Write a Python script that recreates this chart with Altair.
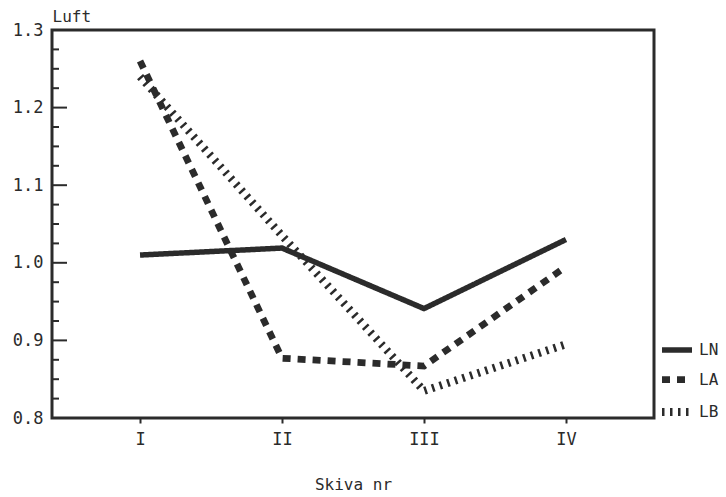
import json
import altair as alt
import pandas as pd

# ---- data ----
slices = ["I", "II", "III", "IV"]
series_names = ["LN", "LA", "LB"]
ln_values = [1.010, 1.019, 0.941, 1.030]
la_values = [1.260, 0.877, 0.867, 0.995]
lb_values = [1.240, 1.035, 0.835, 0.895]
major_ticks = [0.8, 0.9, 1.0, 1.1, 1.2, 1.3]
minor_ticks = [0.825, 0.85, 0.875, 0.925, 0.95, 0.975, 1.025, 1.05, 1.075,
               1.125, 1.15, 1.175, 1.225, 1.25, 1.275]

rows = []
for name, vals in zip(series_names, [ln_values, la_values, lb_values]):
    for s, v in zip(slices, vals):
        rows.append({"Skiva": s, "Luft": v, "serie": name})
df = pd.DataFrame(rows)

FONT = "DejaVu Sans Mono"
INK = "#2b2b2b"

yscale = alt.Scale(domain=[0.8, 1.3], nice=False, zero=False)

lines = alt.Chart(df).mark_line(strokeCap="butt", strokeJoin="miter").encode(
    x=alt.X("Skiva:O", sort=slices, scale=alt.Scale(type="point", padding=0.62),
            axis=alt.Axis(title="Skiva nr", labelAngle=0, tickSize=5, tickWidth=2,
                          tickColor=INK, domain=False, labelPadding=8,
                          titlePadding=29)),
    y=alt.Y("Luft:Q", scale=yscale,
            axis=alt.Axis(title="Luft", values=major_ticks, format=".1f", ticks=False,
                          domain=False, grid=False, labelPadding=9,
                          titleAngle=0, titleX=0, titleY=-9, titleAlign="left",
                          titleBaseline="alphabetic")),
    stroke=alt.Stroke("serie:N", sort=series_names,
                      scale=alt.Scale(domain=series_names, range=[INK, INK, INK]),
                      legend=alt.Legend(title=None)),
    strokeDash=alt.StrokeDash("serie:N", sort=series_names,
                              scale=alt.Scale(domain=series_names,
                                              range=[[1, 0], [8, 7], [2.5, 5.5]]),
                              legend=alt.Legend(title=None)),
    strokeWidth=alt.StrokeWidth("serie:N", sort=series_names,
                                scale=alt.Scale(domain=series_names, range=[5.5, 8, 8]),
                                legend=alt.Legend(title=None)),
    order=alt.Order("serie:N"),
)

major = alt.Chart(pd.DataFrame({"t": major_ticks})).mark_rule(color=INK, strokeWidth=2).encode(
    y=alt.Y("t:Q", scale=yscale), x=alt.value(0), x2=alt.value(15)
)
minor = alt.Chart(pd.DataFrame({"t": minor_ticks})).mark_rule(color=INK, strokeWidth=2).encode(
    y=alt.Y("t:Q", scale=yscale), x=alt.value(0), x2=alt.value(7)
)

chart = alt.layer(major, minor, lines).properties(
    width=602, height=388,
    autosize=alt.AutoSizeParams(type="none"),
    padding={"left": 52, "top": 30, "right": 72, "bottom": 79},
    background="white",
).configure_view(
    stroke=INK, strokeWidth=3
).configure_axis(
    labelFont=FONT, titleFont=FONT, labelFontSize=17, titleFontSize=16,
    labelColor=INK, titleColor=INK, titleFontWeight="normal",
).configure_legend(
    orient="none", legendX=606, legendY=302,
    labelFont=FONT, labelFontSize=16, labelColor=INK,
    symbolType="stroke", symbolSize=900, symbolStrokeColor=INK,
    rowPadding=-1, labelOffset=3,
)

chart.save("out.html", embed_options={"renderer": "svg", "actions": False})
